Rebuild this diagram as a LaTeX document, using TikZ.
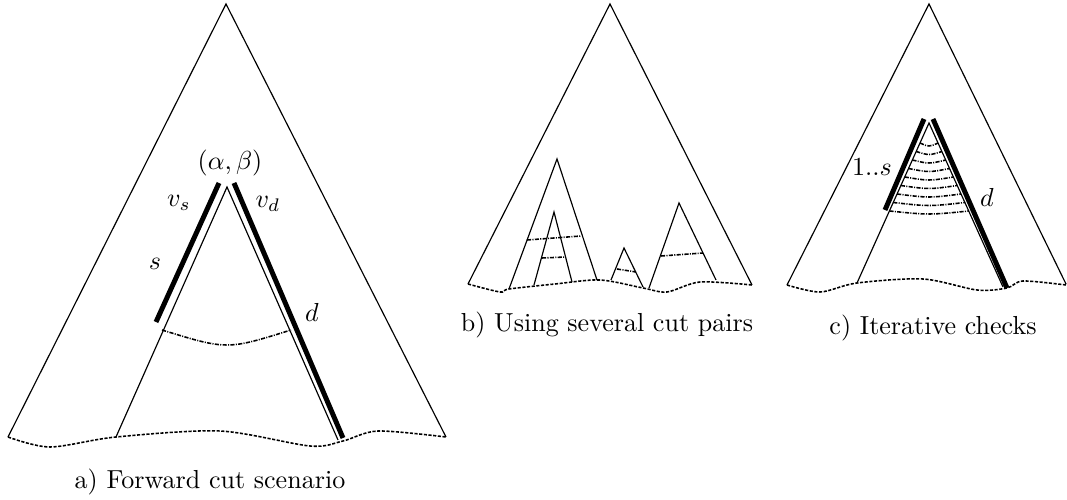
\documentclass[tikz,border=0pt]{standalone}
\tikzset{every node/.style={inner sep=0pt},line cap=round,line join=round,
  side/.style={line width=0.45pt},
  rim/.style={line width=0.6pt,dash pattern=on 1.2pt off 0.6pt},
  cutline/.style={line width=0.6pt,dash pattern=on 1.6pt off 0.5pt on 0.4pt off 0.5pt},
  heavy/.style={line width=1.9pt}}

\begin{document}
\begin{tikzpicture}[x=0.384pt,y=-0.384pt]
  \path[use as bounding box] (0,0) rectangle (1067,500);
  % a) one cut pair under the node (alpha,beta)
  \coordinate (aTop) at (226,4);
  \coordinate (aL) at (8,437);
  \coordinate (aR) at (446,437);
  \coordinate (aIn) at (227,187);
  \coordinate (aInL) at (116,437);
  \coordinate (aInR) at (338,440);
  \draw[side] (aL)--(aTop)--(aR);
  \draw[side] (aInL)--(aIn)--(aInR);
  \draw[rim] plot[smooth] coordinates {(8,437) (50,447) (116,437) (220,431) (310,446) (343,441) (378,431) (446,437)};
  \draw[cutline] (162,330) .. controls (227,350) .. (291,330);
  \coordinate (sTop) at (219,183);
  \coordinate (sBot) at (156,322);
  \coordinate (dTop) at (234,183);
  \coordinate (dBot) at (343,438);
  \draw[heavy] (sTop)--(sBot);
  \draw[heavy] (dTop)--(dBot);
  \node (ab) at (230,163) {$(\alpha,\beta)$};
  \node (vs) at (179,203) {$v_s$};
  \node (vd) at (268,204) {$v_d$};
  \node (sa) at (155,264) {$s$};
  \node (da) at (312,312) {$d$};
  \node[anchor=base] (capa) at (210,489) {a) Forward cut scenario};

  \coordinate (bTop) at (610,4);
  \coordinate (bL) at (468,284);
  \coordinate (bR) at (752,285);
  \draw[side] (bL)--(bTop)--(bR);
  \draw[rim] plot[smooth] coordinates {(468,284) (500,292) (509,289) (555,284) (600,280) (643,288) (667,292) (700,282) (752,285)};
  \draw[side] (509,289)--(557,159)--(597,280);
  \draw[side] (534,285)--(554,212)--(572,282);
  \draw[side] (611,280)--(624,248)--(643,287);
  \draw[side] (649,288)--(679,203)--(716,280);
  \draw[cutline] (527,240)--(581,236);
  \draw[cutline] (542,258)--(566,257);
  \draw[cutline] (617,269)--(636,272);
  \draw[cutline] (661,256)--(703,253);
  \node[anchor=base] (capb) at (607,332) {b) Using several cut pairs};

  \coordinate (cTop) at (929,4);
  \coordinate (cL) at (787,285);
  \coordinate (cR) at (1066,284);
  \coordinate (cIn) at (929,123);
  \coordinate (cInL) at (857,283);
  \coordinate (cInR) at (1003,287);
  \draw[side] (cL)--(cTop)--(cR);
  \draw[side] (cInL)--(cIn)--(cInR);
  \draw[rim] plot[smooth] coordinates {(787,285) (820,292) (857,283) (923,279) (977,290) (1007,288) (1023,281) (1066,285)};
  \foreach \y in {143,151.5,...,212}
    \draw[cutline] ({929-0.45*(\y-123)},\y) .. controls (929,\y+4) .. ({929+0.454*(\y-123)},\y);
  \coordinate (ssTop) at (924,119);
  \coordinate (ssBot) at (885,210);
  \coordinate (ddTop) at (933,119);
  \coordinate (ddBot) at (1007,288);
  \draw[heavy] (ssTop)--(ssBot);
  \draw[heavy] (ddTop)--(ddBot);
  \node (oneS) at (872,167) {$1..s$};
  \node (dc) at (987,197) {$d$};
  \node[anchor=base] (capc) at (933,335) {c) Iterative checks};
\end{tikzpicture}
\end{document}
